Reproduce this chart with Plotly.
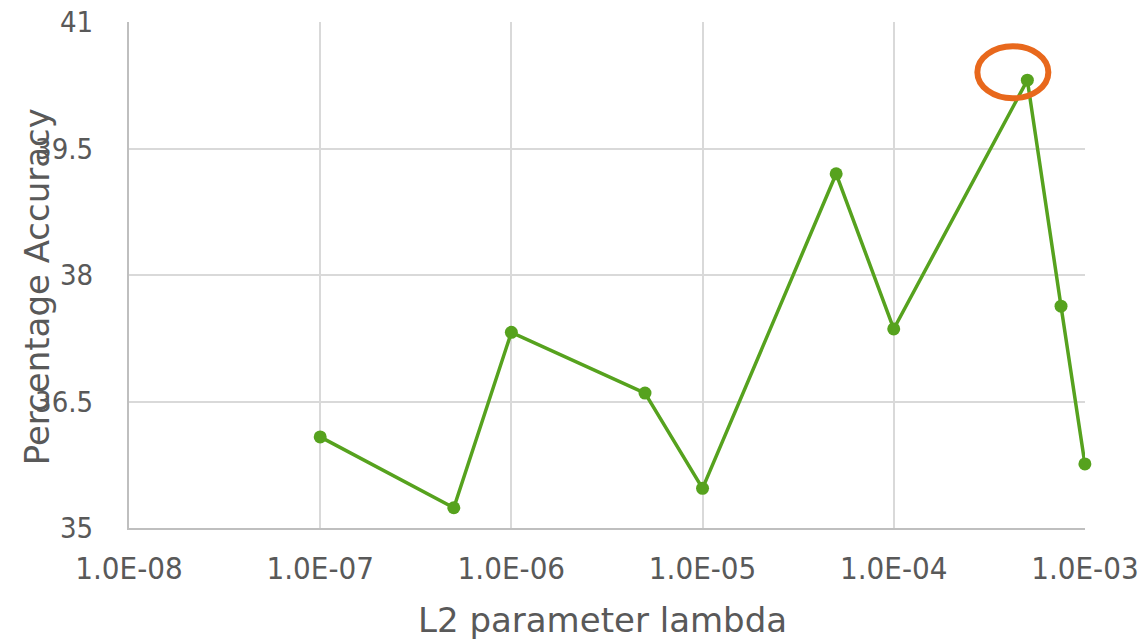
import math
import plotly.graph_objects as go

# Data
lambdas = [1e-7, 5e-7, 1e-6, 5e-6, 1e-5, 5e-5, 1e-4, 5e-4, 7.5e-4, 1e-3]
accuracy = [36.08, 35.24, 37.32, 36.60, 35.47, 39.20, 37.36, 40.31, 37.63, 35.76]
x_tickvals = [1e-8, 1e-7, 1e-6, 1e-5, 1e-4, 1e-3]
x_ticktext = [f"{v:.1E}" for v in x_tickvals]
y_tickvals = [35, 36.5, 38, 39.5, 41]
y_ticktext = ["35", "36.5", "38", "39.5", "41"]

GREEN = "#56A21E"
ORANGE = "#E8681C"
TEXT = "#595959"
GRID = "#D9D9D9"
AXIS = "#BFBFBF"
FAMILY = "DejaVu Sans Condensed, DejaVu Sans, sans-serif"
XTICK_FONT = dict(family=FAMILY, size=31, color=TEXT)
YTICK_FONT = dict(family=FAMILY, size=29, color=TEXT)
TITLE_FONT = dict(family="DejaVu Sans, sans-serif", size=34, color=TEXT)

W, H = 1145, 643
ML, MR, MT, MB = 129, 60, 22, 115
XR = [-8, -2.9995]
YR = [35, 41]
PW = W - ML - MR
PH = H - MT - MB

fig = go.Figure()
fig.add_trace(go.Scatter(
    x=lambdas, y=accuracy, mode="lines+markers",
    line=dict(color=GREEN, width=3.5),
    marker=dict(color=GREEN, size=13),
    cliponaxis=False, showlegend=False,
))

# highlight the best point with an ellipse (pixel offsets from the point, in paper coords)
best_i = max(range(len(accuracy)), key=lambda i: accuracy[i])
bxp = (math.log10(lambdas[best_i]) - XR[0]) / (XR[1] - XR[0])
byp = (accuracy[best_i] - YR[0]) / (YR[1] - YR[0])
fig.add_shape(
    type="circle", xref="paper", yref="paper",
    x0=bxp - 50 / PW, x1=bxp + 21 / PW,
    y0=byp - 18 / PH, y1=byp + 34 / PH,
    line=dict(color=ORANGE, width=6),
    layer="above",
)

fig.update_xaxes(
    type="log", range=XR,
    tickvals=x_tickvals, ticktext=x_ticktext,
    showgrid=True, gridcolor=GRID, gridwidth=2,
    showline=True, linecolor=AXIS, linewidth=2,
    zeroline=False, ticks="", ticklabelstandoff=12,
    tickfont=XTICK_FONT,
)
fig.update_yaxes(
    range=YR,
    tickvals=y_tickvals, ticktext=y_ticktext,
    showgrid=True, gridcolor=GRID, gridwidth=2,
    showline=True, linecolor=AXIS, linewidth=2,
    zeroline=False, ticks="", ticklabelstandoff=28,
    tickfont=YTICK_FONT,
)

fig.add_annotation(
    text="L2 parameter lambda", xref="paper", yref="paper",
    x=0.495, y=-0.182, xanchor="center", yanchor="middle",
    showarrow=False, font=TITLE_FONT,
)
fig.add_annotation(
    text="Percentage Accuracy", xref="paper", yref="paper",
    x=-0.096, y=0.476, xanchor="center", yanchor="middle", textangle=-90,
    showarrow=False, font=TITLE_FONT,
)

fig.update_layout(
    width=W, height=H,
    margin=dict(l=ML, r=MR, t=MT, b=MB, autoexpand=False),
    paper_bgcolor="white", plot_bgcolor="white",
)

fig.write_html(
    "out.html",
    config={"displayModeBar": False},
    post_script="document.body.style.margin='0';document.body.style.overflow='hidden';",
)
